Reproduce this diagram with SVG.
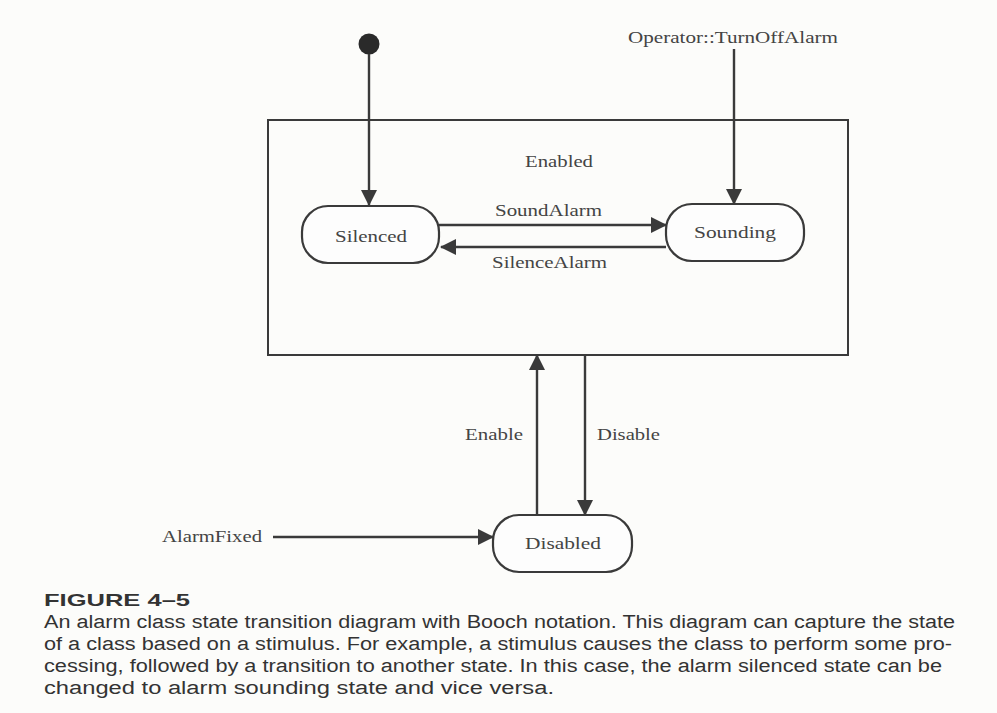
<svg xmlns="http://www.w3.org/2000/svg" width="997" height="713" viewBox="0 0 997 713">
  <defs>
    <marker id="arrow" markerUnits="userSpaceOnUse" markerWidth="16" markerHeight="16" viewBox="0 0 16 16" refX="15" refY="8" orient="auto">
      <path d="M0,0 L16,8 L0,16 Z" fill="#3a3a3a"/>
    </marker>
  </defs>
  <style>
    .lbl { font-family: "Liberation Serif", "Times New Roman", serif; font-size: 17px; fill: #444; }
    .state { fill: #fdfdfd; stroke: #3a3a3a; stroke-width: 2.2; }
    .edge { fill: none; stroke: #3a3a3a; stroke-width: 2.4; }
    .cap { font-family: "Liberation Sans", Arial, sans-serif; font-size: 18px; fill: #333; }
    .capb { font-family: "Liberation Sans", Arial, sans-serif; font-size: 17px; font-weight: bold; fill: #333; }
  </style>

  <rect x="0" y="0" width="997" height="713" fill="#fcfcfa"/>

  <!-- composite state: Enabled -->
  <g id="enabled">
    <rect x="268" y="120" width="580" height="235" fill="none" stroke="#3a3a3a" stroke-width="2"/>
    <text class="lbl" x="559" y="167" text-anchor="middle" textLength="68" lengthAdjust="spacingAndGlyphs">Enabled</text>
  </g>

  <!-- initial pseudo-state -->
  <g id="initial">
    <circle cx="369" cy="44" r="10.5" fill="#2a2a2a"/>
  </g>

  <!-- external event source -->
  <g id="turnoff-source">
    <text class="lbl" x="628" y="43" textLength="210" lengthAdjust="spacingAndGlyphs">Operator::TurnOffAlarm</text>
  </g>

  <g id="silenced">
    <rect class="state" x="302" y="206" width="137" height="57" rx="26" ry="26"/>
    <text class="lbl" x="371" y="242" text-anchor="middle" textLength="72" lengthAdjust="spacingAndGlyphs">Silenced</text>
  </g>

  <g id="sounding">
    <rect class="state" x="666" y="204" width="138" height="57" rx="26" ry="26"/>
    <text class="lbl" x="735" y="238" text-anchor="middle" textLength="82" lengthAdjust="spacingAndGlyphs">Sounding</text>
  </g>

  <g id="disabled">
    <rect class="state" x="493" y="515" width="139" height="57" rx="26" ry="26"/>
    <text class="lbl" x="563" y="549" text-anchor="middle" textLength="76" lengthAdjust="spacingAndGlyphs">Disabled</text>
  </g>

  <g id="alarmfixed-source">
    <text class="lbl" x="162" y="542" textLength="100" lengthAdjust="spacingAndGlyphs">AlarmFixed</text>
  </g>

  <!-- transitions -->
  <g id="connectors">
    <line class="edge" x1="369" y1="54" x2="369" y2="205" marker-end="url(#arrow)"/>
    <line class="edge" x1="734" y1="49" x2="734" y2="204" marker-end="url(#arrow)"/>
    <line class="edge" x1="439" y1="225" x2="666" y2="225" marker-end="url(#arrow)"/>
    <line class="edge" x1="666" y1="247" x2="441" y2="247" marker-end="url(#arrow)"/>
    <line class="edge" x1="537" y1="515" x2="537" y2="355" marker-end="url(#arrow)"/>
    <line class="edge" x1="585" y1="355" x2="585" y2="515" marker-end="url(#arrow)"/>
    <line class="edge" x1="273" y1="537" x2="493" y2="537" marker-end="url(#arrow)"/>

    <text class="lbl" x="495" y="216" textLength="107" lengthAdjust="spacingAndGlyphs">SoundAlarm</text>
    <text class="lbl" x="492" y="268" textLength="115" lengthAdjust="spacingAndGlyphs">SilenceAlarm</text>
    <text class="lbl" x="465" y="440" textLength="58" lengthAdjust="spacingAndGlyphs">Enable</text>
    <text class="lbl" x="597" y="440" textLength="63" lengthAdjust="spacingAndGlyphs">Disable</text>
  </g>

  <!-- figure caption -->
  <g id="caption">
    <text class="capb" x="44" y="606" textLength="146" lengthAdjust="spacingAndGlyphs">FIGURE 4–5</text>
    <text class="cap" x="44" y="628" textLength="911" lengthAdjust="spacingAndGlyphs">An alarm class state transition diagram with Booch notation. This diagram can capture the state</text>
    <text class="cap" x="44" y="650" textLength="908" lengthAdjust="spacingAndGlyphs">of a class based on a stimulus. For example, a stimulus causes the class to perform some pro-</text>
    <text class="cap" x="44" y="672" textLength="898" lengthAdjust="spacingAndGlyphs">cessing, followed by a transition to another state. In this case, the alarm silenced state can be</text>
    <text class="cap" x="44" y="694" textLength="510" lengthAdjust="spacingAndGlyphs">changed to alarm sounding state and vice versa.</text>
  </g>
</svg>
